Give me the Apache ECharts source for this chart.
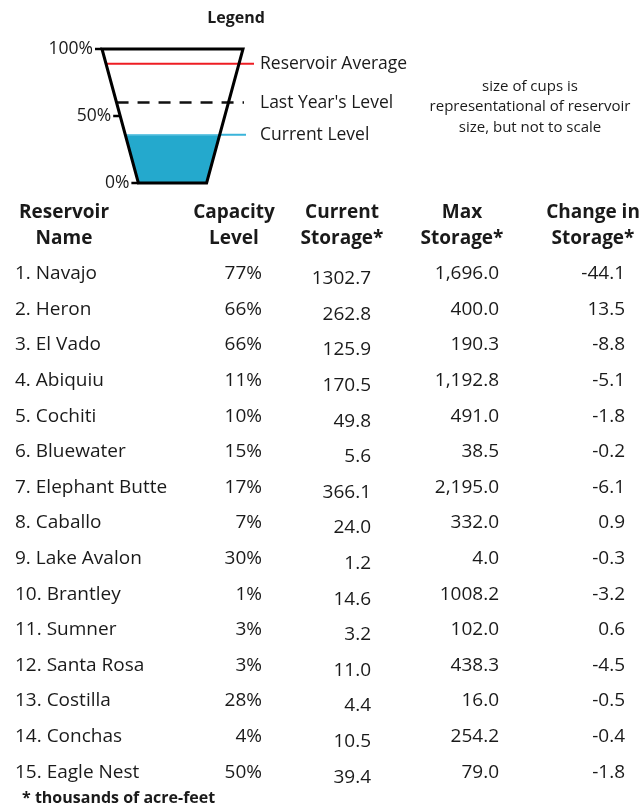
<!DOCTYPE html>
<html>
<head>
<meta charset="utf-8">
<script src="https://cdn.jsdelivr.net/npm/echarts@6/dist/echarts.min.js"></script>
<style>
html, body { margin: 0; padding: 0; background: #fff; }
#chart { width: 644px; height: 812px; }
</style>
</head>
<body>
<div id="chart"></div>
<script>
// ---- data ----
var names = ['1. Navajo', '2. Heron', '3. El Vado', '4. Abiquiu', '5. Cochiti', '6. Bluewater',
  '7. Elephant Butte', '8. Caballo', '9. Lake Avalon', '10. Brantley', '11. Sumner',
  '12. Santa Rosa', '13. Costilla', '14. Conchas', '15. Eagle Nest'];
var capacityLevel = [77, 66, 66, 11, 10, 15, 17, 7, 30, 1, 3, 3, 28, 4, 50];
var currentStorage = [1302.7, 262.8, 125.9, 170.5, 49.8, 5.6, 366.1, 24.0, 1.2, 14.6, 3.2, 11.0, 4.4, 10.5, 39.4];
var maxStorage = ['1,696.0', '400.0', '190.3', '1,192.8', '491.0', '38.5', '2,195.0', '332.0', '4.0',
  '1008.2', '102.0', '438.3', '16.0', '254.2', '79.0'];
var changeStorage = [-44.1, 13.5, -8.8, -5.1, -1.8, -0.2, -6.1, 0.9, -0.3, -3.2, 0.6, -4.5, -0.5, -0.4, -1.8];
var headers = [['Reservoir', 'Name'], ['Capacity', 'Level'], ['Current', 'Storage*'],
  ['Max', 'Storage*'], ['Change in', 'Storage*']];

var cupTicks = [0, 50, 100];
var levelNames = ['Reservoir Average', "Last Year's Level", 'Current Level'];
var levelValues = [89, 60, 36];

// ---- layout / style ----
var FONT = '"Open Sans"';
var TXT = '#1a1a1a';
var cupBottom = 0.484;   // bottom half-width relative to top
var levelStyles = [
  { color: '#ee1d23', width: 2, dash: null, from: 'left', endX: 254 },
  { color: '#111', width: 2.5, dash: [12, 9], from: 'left', endX: 244 },
  { color: '#3ab4da', width: 2, dash: null, from: 'right', endX: 246 }
];
var colX = [15, 262, 371, 499, 625];
var headX = [64, 234, 342, 462, 593];

function edgeX(level, side) {
  return side * (cupBottom + (1 - cupBottom) * level / 100);
}

var myChart = echarts.init(document.getElementById('chart'));

function cellSeries(idx, texts, dy) {
  return {
    type: 'custom',
    xAxisIndex: 1,
    yAxisIndex: 1,
    clip: false,
    data: texts.map(function (t, i) { return [colX[idx], i, t]; }),
    renderItem: function (params, api) {
      var p = api.coord([api.value(0), api.value(1)]);
      return {
        type: 'text',
        x: p[0],
        y: p[1] + (dy || 0),
        style: {
          text: texts[params.dataIndex],
          fill: TXT,
          font: '19px ' + FONT,
          align: idx === 0 ? 'left' : 'right',
          verticalAlign: 'middle'
        }
      };
    }
  };
}

var graphics = [
  { type: 'text', x: 236, y: 18, style: { text: 'Legend', font: 'bold 16px ' + FONT, fill: TXT, align: 'center', verticalAlign: 'middle' } },
  { type: 'text', x: 530, y: 107, style: { text: 'size of cups is\nrepresentational of reservoir\nsize, but not to scale',
    font: '15px ' + FONT, lineHeight: 20.5, fill: TXT, align: 'center', verticalAlign: 'middle' } },
  { type: 'text', x: 22, y: 798, style: { text: '* thousands of acre-feet', font: 'bold 16px ' + FONT, fill: TXT, align: 'left', verticalAlign: 'middle' } }
];
headers.forEach(function (h, i) {
  graphics.push({ type: 'text', x: headX[i], y: 213, style: { text: h[0], font: 'bold 19px ' + FONT, fill: TXT, align: 'center', verticalAlign: 'middle' } });
  graphics.push({ type: 'text', x: headX[i], y: 239, style: { text: h[1], font: 'bold 19px ' + FONT, fill: TXT, align: 'center', verticalAlign: 'middle' } });
});

myChart.setOption({
  animation: false,
  grid: [
    { left: 102, top: 49, width: 141, height: 134 },
    { left: 0, top: 256, width: 644, height: 534 }
  ],
  xAxis: [
    { type: 'value', min: -1, max: 1, show: false, gridIndex: 0 },
    { type: 'value', min: 0, max: 644, show: false, gridIndex: 1 }
  ],
  yAxis: [
    { type: 'value', min: 0, max: 100, show: false, gridIndex: 0 },
    { type: 'category', data: names, inverse: true, show: false, gridIndex: 1 }
  ],
  graphic: graphics,
  series: [
    // water in the legend cup
    {
      type: 'custom',
      clip: false,
      data: [[levelValues[2]]],
      renderItem: function (params, api) {
        var lv = api.value(0);
        var pts = [
          api.coord([edgeX(0, -1), 0]), api.coord([edgeX(0, 1), 0]),
          api.coord([edgeX(lv, 1), lv]), api.coord([edgeX(lv, -1), lv])
        ];
        return {
          type: 'group',
          children: [
            { type: 'polygon', shape: { points: pts }, style: { fill: '#24a9cd' } },
            { type: 'line', shape: { x1: pts[3][0], y1: pts[3][1], x2: pts[2][0], y2: pts[2][1] },
              style: { stroke: '#6cc8e4', lineWidth: 1.5 } }
          ]
        };
      }
    },
    // level lines + labels
    {
      type: 'custom',
      clip: false,
      data: levelValues.map(function (v) { return [v]; }),
      renderItem: function (params, api) {
        var i = params.dataIndex;
        var lv = api.value(0);
        var st = levelStyles[i];
        var start = api.coord([edgeX(lv, st.from === 'left' ? -1 : 1), lv]);
        return {
          type: 'group',
          children: [
            { type: 'line', shape: { x1: start[0], y1: start[1], x2: st.endX, y2: start[1] },
              style: { stroke: st.color, lineWidth: st.width, lineDash: st.dash } },
            { type: 'text', x: 260, y: start[1], style: { text: levelNames[i], font: '17.5px ' + FONT,
              fill: TXT, align: 'left', verticalAlign: 'middle' } }
          ]
        };
      }
    },
    // cup outline
    {
      type: 'custom',
      clip: false,
      data: [[0]],
      renderItem: function (params, api) {
        var pts = [
          api.coord([edgeX(100, -1), 100]), api.coord([edgeX(0, -1), 0]),
          api.coord([edgeX(0, 1), 0]), api.coord([edgeX(100, 1), 100])
        ];
        return { type: 'polygon', shape: { points: pts },
          style: { fill: 'none', stroke: '#000', lineWidth: 3, lineJoin: 'miter' } };
      }
    },
    // ticks on the cup
    {
      type: 'custom',
      clip: false,
      data: cupTicks.map(function (v) { return [v]; }),
      renderItem: function (params, api) {
        var lv = api.value(0);
        var p = api.coord([edgeX(lv, -1), lv]);
        return {
          type: 'group',
          children: [
            { type: 'line', shape: { x1: p[0] - 7, y1: p[1], x2: p[0], y2: p[1] },
              style: { stroke: '#000', lineWidth: 2.5 } },
            { type: 'text', x: p[0] - 9, y: p[1], style: { text: lv + '%', font: '17.5px ' + FONT,
              fill: TXT, align: 'right', verticalAlign: 'middle' } }
          ]
        };
      }
    },
    cellSeries(0, names, 0),
    cellSeries(1, capacityLevel.map(function (v) { return v + '%'; }), 0),
    cellSeries(2, currentStorage.map(function (v) { return v.toFixed(1); }), 5),
    cellSeries(3, maxStorage, 0),
    cellSeries(4, changeStorage.map(function (v) { return v.toFixed(1); }), 0)
  ]
});
</script>
</body>
</html>
